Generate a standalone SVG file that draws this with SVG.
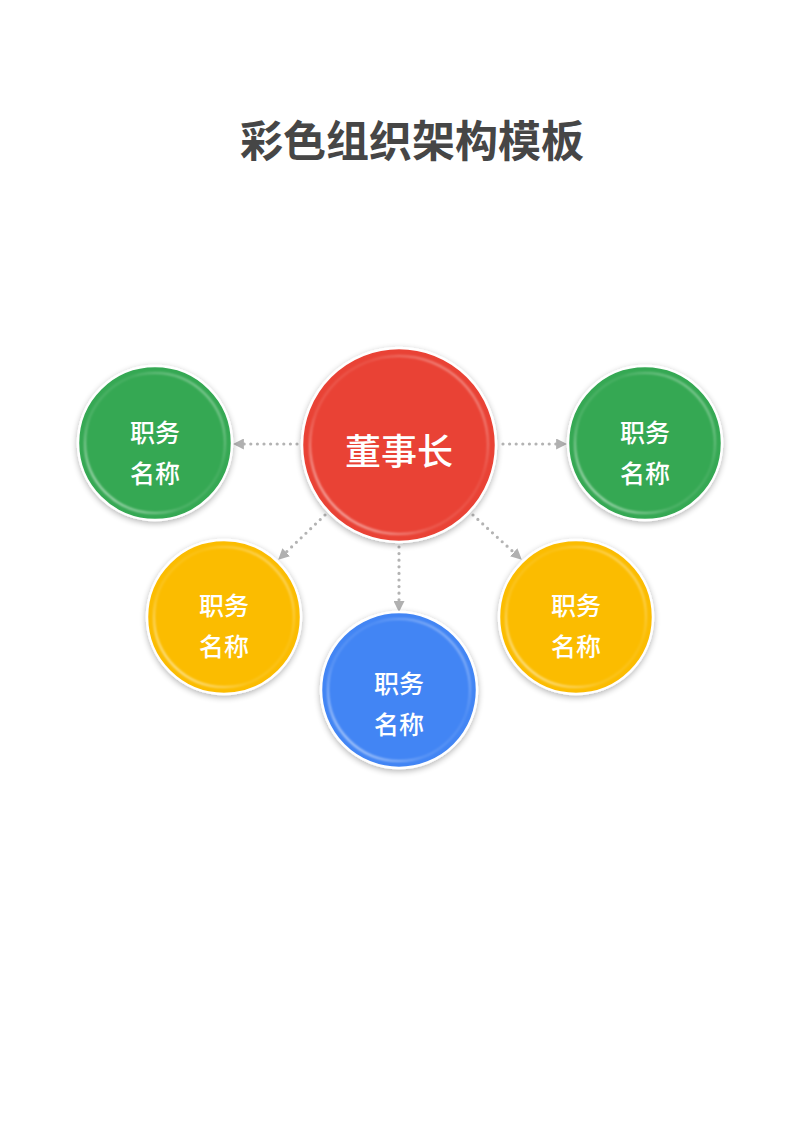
<svg xmlns="http://www.w3.org/2000/svg" width="800" height="1131" viewBox="0 0 800 1131">
<defs>
  <filter id="shadow" x="-20%" y="-20%" width="140%" height="140%">
    <feGaussianBlur in="SourceAlpha" stdDeviation="3"/>
    <feOffset dx="0" dy="2" result="b"/>
    <feComponentTransfer><feFuncA type="linear" slope="0.3"/></feComponentTransfer>
    <feMerge><feMergeNode/><feMergeNode in="SourceGraphic"/></feMerge>
  </filter>
  <filter id="soft" x="-10%" y="-10%" width="120%" height="120%">
    <feGaussianBlur stdDeviation="0.8"/>
  </filter>
  <marker id="arrow" viewBox="0 0 10 10" refX="9" refY="5" markerWidth="11" markerHeight="11" markerUnits="userSpaceOnUse" orient="auto">
    <path d="M0,0 L10,5 L0,10 Z" fill="#b0b0b0"/>
  </marker>
  <linearGradient id="rimgrad" x1="0" y1="1" x2="1" y2="0">
    <stop offset="0%" stop-color="#fff" stop-opacity="0.9"/>
    <stop offset="35%" stop-color="#fff" stop-opacity="0.15"/>
    <stop offset="65%" stop-color="#fff" stop-opacity="0.1"/>
    <stop offset="100%" stop-color="#fff" stop-opacity="0.6"/>
  </linearGradient>
</defs>
<style>
  .title { font-family: "Noto Sans CJK SC", "Noto Sans", sans-serif; font-weight: bold; font-size: 43px; fill: #464646; }
  .lbl { font-family: "Noto Sans CJK SC", "Noto Sans", sans-serif; font-weight: 500; font-size: 25px; fill: #ffffff; text-anchor: middle; }
  .big { font-size: 36px; }
  .disc { stroke: #ffffff; stroke-width: 2.5; filter: url(#shadow); }
  .ring { fill: none; stroke: url(#rimgrad); stroke-width: 2; filter: url(#soft); }
  .conn { stroke: #b3b3b3; stroke-width: 3.2; stroke-linecap: round; stroke-dasharray: 0 6.6; fill: none; marker-end: url(#arrow); }
</style>
<rect width="800" height="1131" fill="#ffffff"/>
<text class="title" x="412" y="157" text-anchor="middle">彩色组织架构模板</text>

<g id="connectors">
  <line class="conn" x1="297" y1="444" x2="234" y2="444"/>
  <line class="conn" x1="503" y1="444" x2="566" y2="444"/>
  <line class="conn" x1="325" y1="515" x2="279" y2="559"/>
  <line class="conn" x1="473" y1="515" x2="521" y2="559"/>
  <line class="conn" x1="399" y1="547" x2="399" y2="611"/>
</g>

<g id="chairman">
  <circle class="disc" cx="399" cy="445" r="97" fill="#E94235"/>
  <circle class="ring" cx="399" cy="445" r="89"/>
  <text class="lbl big" x="399" y="465">董事长</text>
</g>

<g id="green-left">
  <circle class="disc" cx="155" cy="443" r="77" fill="#34A853"/>
  <circle class="ring" cx="155" cy="443" r="70"/>
  <text class="lbl" x="155" y="442">职务</text>
  <text class="lbl" x="155" y="483">名称</text>
</g>

<g id="green-right">
  <circle class="disc" cx="645" cy="443" r="77" fill="#34A853"/>
  <circle class="ring" cx="645" cy="443" r="70"/>
  <text class="lbl" x="645" y="442">职务</text>
  <text class="lbl" x="645" y="483">名称</text>
</g>

<g id="yellow-left">
  <circle class="disc" cx="224" cy="617" r="77" fill="#FBBC05"/>
  <circle class="ring" cx="224" cy="617" r="70"/>
  <text class="lbl" x="224" y="615">职务</text>
  <text class="lbl" x="224" y="656">名称</text>
</g>

<g id="yellow-right">
  <circle class="disc" cx="576" cy="617" r="77" fill="#FBBC05"/>
  <circle class="ring" cx="576" cy="617" r="70"/>
  <text class="lbl" x="576" y="615">职务</text>
  <text class="lbl" x="576" y="656">名称</text>
</g>

<g id="blue">
  <circle class="disc" cx="399" cy="690" r="78" fill="#4285F4"/>
  <circle class="ring" cx="399" cy="690" r="71"/>
  <text class="lbl" x="399" y="693">职务</text>
  <text class="lbl" x="399" y="734">名称</text>
</g>
</svg>
